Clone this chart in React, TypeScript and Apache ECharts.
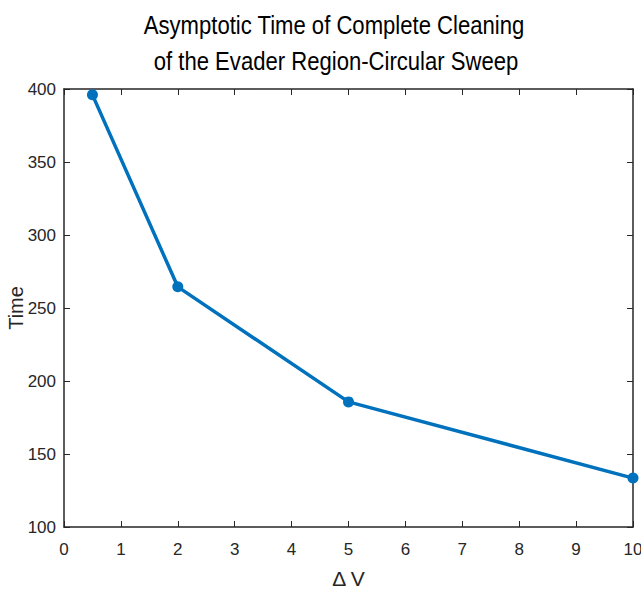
import React, { useEffect, useRef } from "react";
import * as echarts from "echarts";

const deltaV = [0.5, 2, 5, 10];
const timeValues = [396, 264.5, 185.7, 133.5];
const titleLine1 = "Asymptotic Time of Complete Cleaning";
const titleLine2 = "of the Evader Region-Circular Sweep";
const xName = "\u0394 V";
const yName = "Time";

const FONT = "'Liberation Sans', Arial, sans-serif";
const AXIS_COLOR = "#262626";

export default function App() {
  const ref = useRef<HTMLDivElement>(null);
  useEffect(() => {
    if (!ref.current) return;
    const chart = echarts.init(ref.current, undefined, { renderer: "svg" });
    const baseAxis = {
      axisLine: { show: true, onZero: false, lineStyle: { color: AXIS_COLOR, width: 1.5 } },
      axisTick: { show: true, inside: true, length: 6, lineStyle: { color: AXIS_COLOR, width: 1 } },
      splitLine: { show: false },
    };
    const titleStyle = {
      align: "center",
      verticalAlign: "middle",
      fontFamily: FONT,
      fontSize: 26,
      fill: "#000000",
    };
    chart.setOption({
      animation: false,
      backgroundColor: "#ffffff",
      grid: { left: 64, right: 8, top: 89, bottom: 63, containLabel: false, outerBoundsMode: "none" },
      graphic: [
        { type: "text", x: 334, y: 25, scaleX: 0.85, style: { ...titleStyle, text: titleLine1 } },
        { type: "text", x: 336, y: 61, scaleX: 0.85, style: { ...titleStyle, text: titleLine2 } },
      ],
      xAxis: [
        {
          ...baseAxis,
          type: "value",
          position: "bottom",
          min: 0,
          max: 10,
          interval: 1,
          name: xName,
          nameLocation: "middle",
          nameGap: 41,
          nameMoveOverlap: false,
          nameTextStyle: { fontFamily: FONT, fontSize: 21, color: "#262626" },
          axisLabel: { fontFamily: FONT, fontSize: 17, color: "#262626", margin: 14 },
        },
        {
          ...baseAxis,
          type: "value",
          position: "top",
          min: 0,
          max: 10,
          interval: 1,
          axisLabel: { show: false },
        },
      ],
      yAxis: [
        {
          ...baseAxis,
          type: "value",
          position: "left",
          min: 100,
          max: 400,
          interval: 50,
          name: yName,
          nameLocation: "middle",
          nameGap: 38,
          nameMoveOverlap: false,
          nameRotate: 90,
          nameTextStyle: { fontFamily: FONT, fontSize: 20, color: "#262626" },
          axisLabel: { fontFamily: FONT, fontSize: 17, color: "#262626", margin: 8 },
        },
        {
          ...baseAxis,
          type: "value",
          position: "right",
          min: 100,
          max: 400,
          interval: 50,
          axisLabel: { show: false },
        },
      ],
      series: [
        {
          type: "line",
          xAxisIndex: 0,
          yAxisIndex: 0,
          data: deltaV.map((x, i) => [x, timeValues[i]]),
          symbol: "circle",
          symbolSize: 11,
          lineStyle: { color: "#0072BD", width: 3.5 },
          itemStyle: { color: "#0072BD" },
        },
      ],
    });
    return () => chart.dispose();
  }, []);
  return <div ref={ref} style={{ width: 641, height: 590, position: "absolute", left: 0, top: 0 }} />;
}
